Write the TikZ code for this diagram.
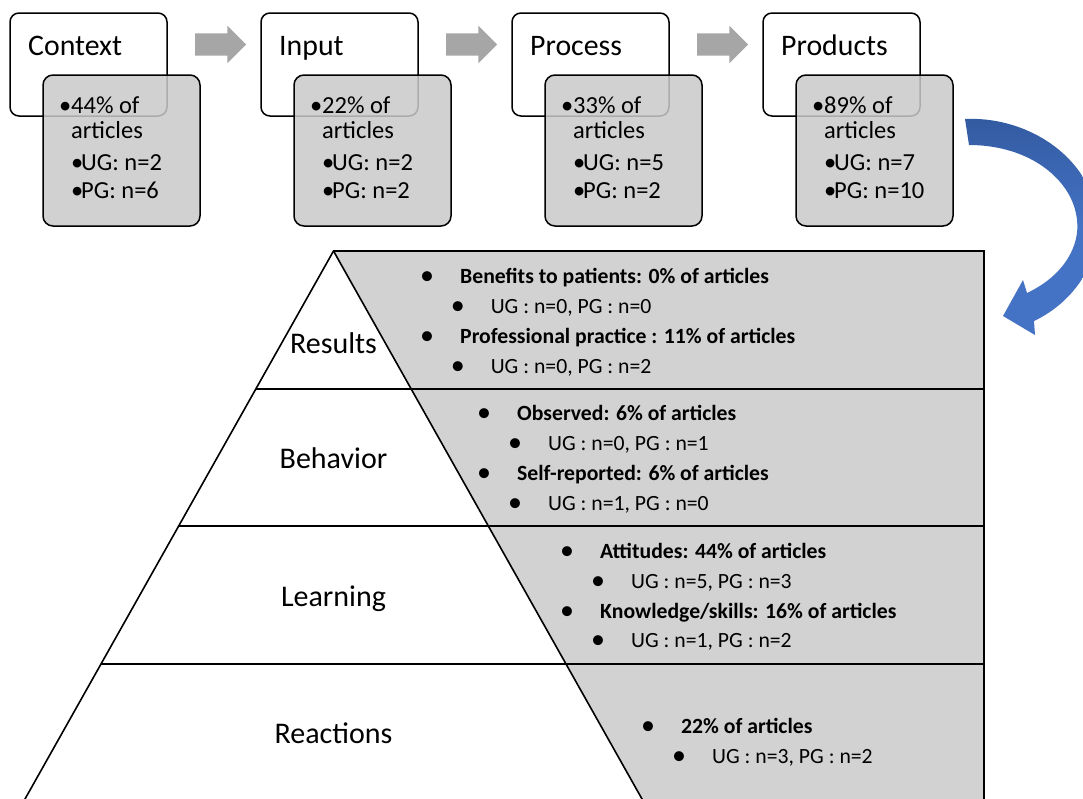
\documentclass[tikz,border=0pt]{standalone}
\usepackage{fontspec}
\setmainfont{Carlito}
\usetikzlibrary{shapes.arrows,calc}

\definecolor{boxgray}{RGB}{202,202,202}
\definecolor{pyrgray}{RGB}{210,210,210}
\definecolor{flowgray}{RGB}{166,166,166}
\definecolor{flowblue}{RGB}{68,114,196}
\definecolor{flowdark}{RGB}{50,90,160}

\tikzset{
  stagebox/.style={draw, fill=white, line width=1.5pt, rounded corners=9pt,
    minimum width=157pt, minimum height=103pt, inner sep=0pt},
  databox/.style={draw, fill=boxgray, fill opacity=0.85, line width=1.5pt, rounded corners=10pt,
    minimum width=157pt, minimum height=151pt, inner sep=0pt},
  stagetitle/.style={anchor=base west, inner sep=0pt, font=\fontsize{29.8}{34}\selectfont},
  datatext/.style={anchor=base west, inner sep=0pt, font=\fontsize{24.5}{28}\selectfont},
  flowarrow/.style={single arrow, fill=flowgray, minimum height=51pt, inner xsep=0pt,
    inner ysep=11pt, single arrow head extend=7.5pt},
  layerlabel/.style={anchor=base, inner sep=0pt, font=\fontsize{30}{36}\selectfont},
  pyrtext/.style={anchor=base west, inner sep=0pt, font=\fontsize{21.7}{26}\selectfont},
  pyrline/.style={line width=1.6pt},
}

% one CIPP stage: name, left x, title, percent, UG, PG
\newcommand{\drawstage}[6]{%
  \node[stagebox] (#1) at (#2+78.5,64.5) {};
  \node[stagetitle] (#1-title) at (#2+18,55) {#3};
  \node[databox] (#1-data) at (#2+111.5,150.5) {};
  \node[datatext] (#1-pct) at (#2+49,113) {\makebox[12pt][l]{\textbullet}#4\% of};
  \node[datatext] (#1-art) at (#2+61,138) {articles};
  \node[datatext] (#1-ug) at (#2+61,170) {\makebox[10pt][l]{\textbullet}UG: n=#5};
  \node[datatext] (#1-pg) at (#2+61,198) {\makebox[10pt][l]{\textbullet}PG: n=#6};
}
\newcommand{\pbullet}{\makebox[40pt][l]{\raisebox{-1.5pt}{\fontsize{28}{28}\selectfont\textbullet}}}

\begin{document}
\begin{tikzpicture}[x=1pt, y=-1pt]
  \fill[white] (0,0) rectangle (1083,798);
  \useasboundingbox (0,0) rectangle (1083,798);
  \clip (0,0) rectangle (1083,798);

  % CIPP stages
  \drawstage{context}{10}{Context}{44}{2}{6}
  \drawstage{input}{261}{Input}{22}{2}{2}
  \drawstage{process}{512}{Process}{33}{5}{2}
  \drawstage{products}{763}{Products}{89}{7}{10}

  \node[flowarrow] (context-input) at ($(context.east)!0.5!(input.west)+(1,-20)$) {};
  \node[flowarrow] (input-process) at ($(input.east)!0.5!(process.west)+(1,-20)$) {};
  \node[flowarrow] (process-products) at ($(process.east)!0.5!(products.west)+(1,-20)$) {};

  % curved arrow to the pyramid
  \path[top color=flowdark, bottom color=flowblue, middle color=flowblue]
    (965,119) .. controls (1030,116) and (1095,160) .. (1098,225)
    .. controls (1098,270) and (1068,305) .. (1034,321)
    -- (1035,335) -- (1003,316) -- (1023,280) -- (1027,293)
    .. controls (1065,275) and (1080,245) .. (1077,220)
    .. controls (1073,180) and (1030,145) .. (969,145) -- cycle;

  % Kirkpatrick pyramid
  \fill[pyrgray] (333.5,251) -- (984,251) -- (984,810) -- (648.2,810) -- cycle;
  \draw[pyrline] (18.8,810) -- (333.5,251) -- (984,251) -- (984,810);
  \draw[pyrline] (333.5,251) -- (648.2,810);
  \draw[pyrline] (255.8,389) -- (984,389);
  \draw[pyrline] (178.7,526) -- (984,526);
  \draw[pyrline] (101,664) -- (984,664);

  \node[layerlabel] (results) at (333.5,353) {Results};
  \node[layerlabel] (behavior) at (333.5,468) {Behavior};
  \node[layerlabel] (learning) at (333.5,606) {Learning};
  \node[layerlabel] (reactions) at (333.5,743) {Reactions};

  \node[pyrtext] (results-a) at (420,283) {\pbullet\textbf{Benefits to patients: 0\% of articles}};
  \node[pyrtext] (results-a1) at (450.6,313) {\pbullet UG : n=0, PG : n=0};
  \node[pyrtext] (results-b) at (420,343) {\pbullet\textbf{Professional practice : 11\% of articles}};
  \node[pyrtext] (results-b1) at (450.6,373) {\pbullet UG : n=0, PG : n=2};

  \node[pyrtext] (behavior-a) at (477,420) {\pbullet\textbf{Observed: 6\% of articles}};
  \node[pyrtext] (behavior-a1) at (508,450) {\pbullet UG : n=0, PG : n=1};
  \node[pyrtext] (behavior-b) at (477,480) {\pbullet\textbf{Self-reported: 6\% of articles}};
  \node[pyrtext] (behavior-b1) at (508,510) {\pbullet UG : n=1, PG : n=0};

  \node[pyrtext] (learning-a) at (560,558) {\pbullet\textbf{Attitudes: 44\% of articles}};
  \node[pyrtext] (learning-a1) at (591,588) {\pbullet UG : n=5, PG : n=3};
  \node[pyrtext] (learning-b) at (560,618) {\pbullet\textbf{Knowledge/skills: 16\% of articles}};
  \node[pyrtext] (learning-b1) at (591,647) {\pbullet UG : n=1, PG : n=2};

  \node[pyrtext] (reactions-a) at (641,733) {\pbullet\textbf{22\% of articles}};
  \node[pyrtext] (reactions-a1) at (672,763) {\pbullet UG : n=3, PG : n=2};
\end{tikzpicture}
\end{document}
